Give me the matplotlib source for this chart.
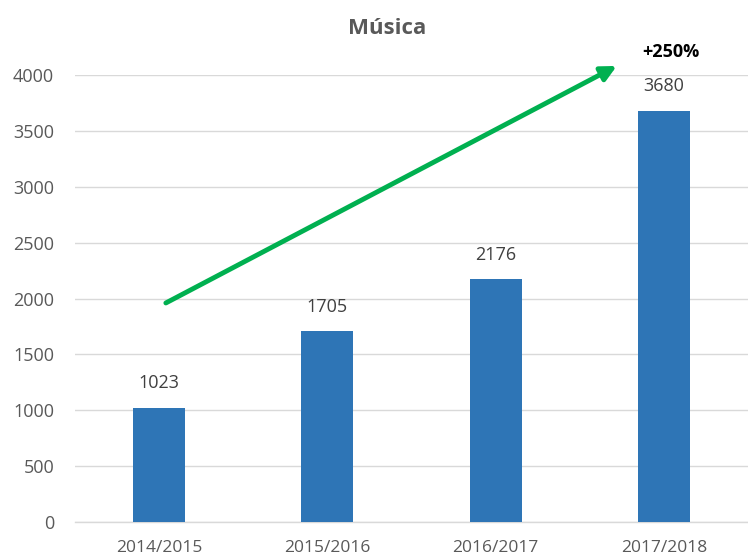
import matplotlib.pyplot as plt

plt.rcParams['font.family'] = ['Open Sans', 'DejaVu Sans']

seasons = ["2014/2015", "2015/2016", "2016/2017", "2017/2018"]
counts = [1023, 1705, 2176, 3680]
yticks = [0, 500, 1000, 1500, 2000, 2500, 3000, 3500, 4000]
growth_label = "+250%"

fig = plt.figure(figsize=(7.48, 5.58), dpi=100)
ax = fig.add_axes([75 / 748, 36 / 558, 673 / 748, 447 / 558])

x = list(range(len(seasons)))
ax.bar(x, counts, width=0.31, color="#2E75B6", zorder=3)

for xi, v in zip(x, counts):
    ax.annotate(str(v), (xi, v), xytext=(0, 11), textcoords="offset points",
                ha="center", va="bottom", fontsize=13, color="#404040")

ax.set_xlim(-0.5, 3.5)
ax.set_ylim(0, 4000)
ax.set_yticks(yticks)
ax.set_xticks(x)
ax.set_xticklabels(seasons)
ax.tick_params(length=0, labelcolor="#595959")
ax.tick_params(axis="y", pad=15, labelsize=13)
ax.tick_params(axis="x", pad=13, labelsize=12.5)
ax.yaxis.grid(True, color="#D9D9D9", lw=1, zorder=0)
for side in ["left", "right", "top"]:
    ax.spines[side].set_visible(False)
ax.spines["bottom"].set_color("#D9D9D9")
ax.spines["bottom"].set_linewidth(1)

# growth arrow rising over the bars
ax.annotate("", xy=(2.72, 4081), xytext=(0.04, 1960),
            arrowprops=dict(arrowstyle="-|>,head_length=0.9,head_width=0.45",
                            color="#00B050", lw=3.5, shrinkA=0, shrinkB=0),
            annotation_clip=False, zorder=4)
ax.text(3.04, 4206, growth_label, ha="center", va="center", fontsize=13,
        fontweight="bold", color="black", clip_on=False)

fig.text(387 / 748, 1 - 28 / 558, "Música", ha="center", va="center",
         fontsize=16, fontweight="bold", color="#595959")

fig.savefig("out.png", dpi=100)
